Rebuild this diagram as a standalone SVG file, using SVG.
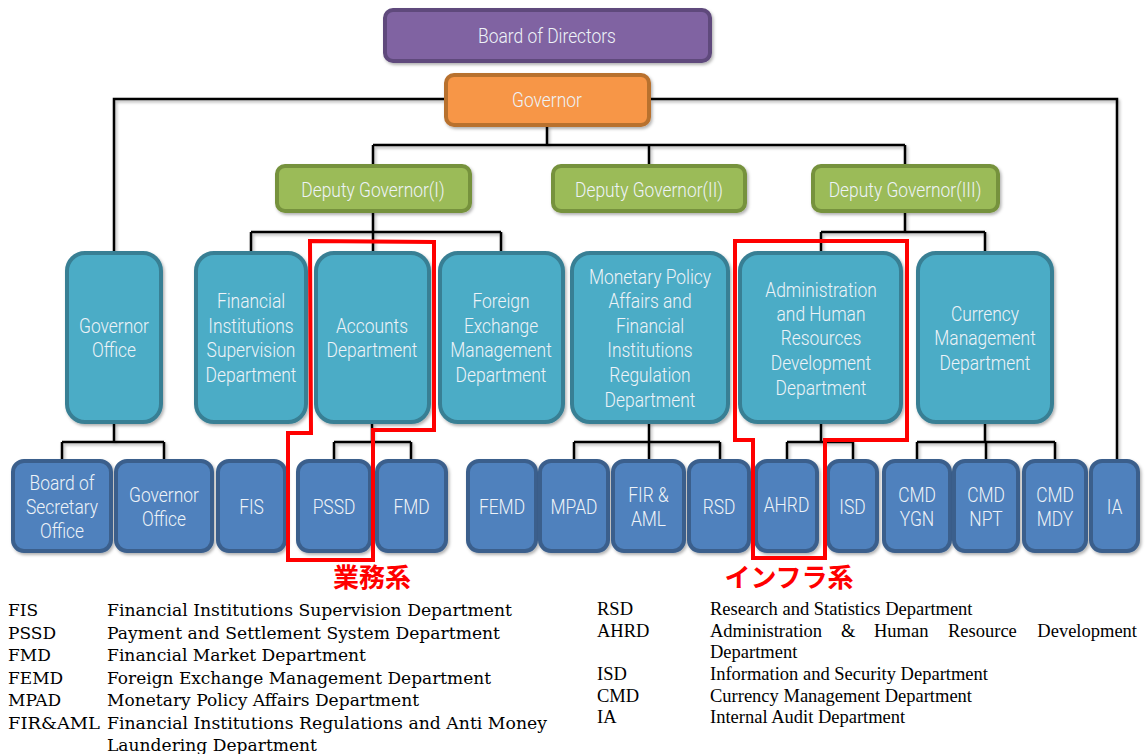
<svg xmlns="http://www.w3.org/2000/svg" width="1146" height="754" viewBox="0 0 1146 754">
  <defs>
    <filter id="shadow" x="-10%" y="-10%" width="130%" height="130%">
      <feDropShadow dx="1.5" dy="2" stdDeviation="1.5" flood-color="#000" flood-opacity="0.3"/>
    </filter>
    <style>
      .box { stroke-width: 4; filter: url(#shadow); }
      .board { fill: #8064a2; stroke: #5e4a7c; }
      .gov { fill: #f79646; stroke: #b8712f; }
      .dep { fill: #9bbb59; stroke: #76923c; }
      .dept { fill: #4bacc6; stroke: #387f94; }
      .unit { fill: #4f81bd; stroke: #3a5f8c; }
      .lbl { font-family: Roboto, "Open Sans", sans-serif; font-weight: 300; font-size: 20px; fill: #eef3f8; text-anchor: middle; }
      .wire { fill: none; stroke: #000; stroke-width: 2.5; filter: url(#shadow); }
      .mark { fill: none; stroke: #ff0000; stroke-width: 4; stroke-linejoin: miter; }
      .tag { font-family: "Noto Sans CJK JP", sans-serif; font-weight: 700; font-size: 26px; fill: #ff0000; text-anchor: middle; }
      .keyL { font-family: "DejaVu Serif", "Liberation Serif", serif; font-size: 17px; fill: #000; }
      .keyR { font-family: "Liberation Serif", serif; font-size: 18.5px; fill: #000; }
    </style>
  </defs>

  <rect width="1146" height="754" fill="#ffffff"/>

  <!-- connectors -->
  <g id="connectors">
    <path class="wire" d="M547 62 V74"/>
    <path class="wire" d="M444 99 H114 V252"/>
    <path class="wire" d="M651 99 H1117 V460"/>
    <path class="wire" d="M547 126 V145 M373 145 H905 M373 145 V165 M649 145 V165 M905 145 V165"/>
    <path class="wire" d="M373 212 V232 M251 232 H501 M251 232 V252 M373 232 V252 M501 232 V252"/>
    <path class="wire" d="M649 212 V252"/>
    <path class="wire" d="M905 212 V232 M821 232 H985 M821 232 V252 M985 232 V252"/>
    <path class="wire" d="M114 423 V442 M62 442 H164 M62 442 V460 M164 442 V460"/>
    <path class="wire" d="M251 423 V460"/>
    <path class="wire" d="M372 423 V442 M334 442 H411 M334 442 V460 M411 442 V460"/>
    <path class="wire" d="M501 423 V460"/>
    <path class="wire" d="M649 423 V442 M574 442 H720 M574 442 V460 M649 442 V460 M720 442 V460"/>
    <path class="wire" d="M821 423 V442 M787 442 H853 M787 442 V460 M853 442 V460"/>
    <path class="wire" d="M985 423 V442 M917 442 H1055 M917 442 V460 M986 442 V460 M1055 442 V460"/>
  </g>

  <!-- top level -->
  <g id="board-of-directors">
    <rect class="box board" x="385" y="10" width="325" height="51" rx="8"/>
    <text class="lbl" transform="translate(547 0) scale(0.87 1)"><tspan x="0" y="43">Board of Directors</tspan></text>
  </g>
  <g id="governor">
    <rect class="box gov" x="446" y="75" width="203" height="50" rx="8"/>
    <text class="lbl" transform="translate(547 0) scale(0.87 1)"><tspan x="0" y="107">Governor</tspan></text>
  </g>

  <!-- deputy governors -->
  <g id="deputy-governor-1">
    <rect class="box dep" x="277" y="166" width="193" height="45" rx="8"/>
    <text class="lbl" transform="translate(373 0) scale(0.87 1)"><tspan x="0" y="197">Deputy Governor(I)</tspan></text>
  </g>
  <g id="deputy-governor-2">
    <rect class="box dep" x="553" y="166" width="192" height="45" rx="8"/>
    <text class="lbl" transform="translate(649 0) scale(0.87 1)"><tspan x="0" y="197">Deputy Governor(II)</tspan></text>
  </g>
  <g id="deputy-governor-3">
    <rect class="box dep" x="813" y="166" width="185" height="45" rx="8"/>
    <text class="lbl" transform="translate(905 0) scale(0.87 1)"><tspan x="0" y="197">Deputy Governor(III)</tspan></text>
  </g>

  <!-- departments -->
  <g id="governor-office">
    <rect class="box dept" x="67" y="253" width="94" height="169" rx="18"/>
    <text class="lbl" transform="translate(114 0) scale(0.87 1)"><tspan x="0" y="333">Governor</tspan><tspan x="0" y="357">Office</tspan></text>
  </g>
  <g id="fi-supervision-dept">
    <rect class="box dept" x="196" y="253" width="110" height="169" rx="18"/>
    <text class="lbl" transform="translate(251 0) scale(0.87 1)"><tspan x="0" y="308">Financial</tspan><tspan x="0" y="333">Institutions</tspan><tspan x="0" y="357">Supervision</tspan><tspan x="0" y="382">Department</tspan></text>
  </g>
  <g id="accounts-dept">
    <rect class="box dept" x="316" y="253" width="113" height="169" rx="18"/>
    <text class="lbl" transform="translate(372 0) scale(0.87 1)"><tspan x="0" y="333">Accounts</tspan><tspan x="0" y="357">Department</tspan></text>
  </g>
  <g id="fx-management-dept">
    <rect class="box dept" x="440" y="253" width="123" height="169" rx="18"/>
    <text class="lbl" transform="translate(501 0) scale(0.87 1)"><tspan x="0" y="308">Foreign</tspan><tspan x="0" y="333">Exchange</tspan><tspan x="0" y="357">Management</tspan><tspan x="0" y="382">Department</tspan></text>
  </g>
  <g id="monetary-policy-dept">
    <rect class="box dept" x="572" y="253" width="156" height="169" rx="18"/>
    <text class="lbl" transform="translate(650 0) scale(0.87 1)"><tspan x="0" y="284">Monetary Policy</tspan><tspan x="0" y="308">Affairs and</tspan><tspan x="0" y="333">Financial</tspan><tspan x="0" y="357">Institutions</tspan><tspan x="0" y="382">Regulation</tspan><tspan x="0" y="407">Department</tspan></text>
  </g>
  <g id="admin-hr-dept">
    <rect class="box dept" x="740" y="253" width="161" height="169" rx="18"/>
    <text class="lbl" transform="translate(821 0) scale(0.87 1)"><tspan x="0" y="297">Administration</tspan><tspan x="0" y="321">and Human</tspan><tspan x="0" y="345">Resources</tspan><tspan x="0" y="370">Development</tspan><tspan x="0" y="395">Department</tspan></text>
  </g>
  <g id="currency-management-dept">
    <rect class="box dept" x="918" y="253" width="134" height="169" rx="18"/>
    <text class="lbl" transform="translate(985 0) scale(0.87 1)"><tspan x="0" y="321">Currency</tspan><tspan x="0" y="345">Management</tspan><tspan x="0" y="370">Department</tspan></text>
  </g>

  <!-- units -->
  <g id="board-secretary-office">
    <rect class="box unit" x="13" y="461" width="98" height="90" rx="11"/>
    <text class="lbl" transform="translate(62 0) scale(0.87 1)"><tspan x="0" y="490">Board of</tspan><tspan x="0" y="514">Secretary</tspan><tspan x="0" y="538">Office</tspan></text>
  </g>
  <g id="governor-office-unit">
    <rect class="box unit" x="116" y="461" width="96" height="90" rx="11"/>
    <text class="lbl" transform="translate(164 0) scale(0.87 1)"><tspan x="0" y="502">Governor</tspan><tspan x="0" y="526">Office</tspan></text>
  </g>
  <g id="fis">
    <rect class="box unit" x="218" y="461" width="67" height="90" rx="11"/>
    <text class="lbl" transform="translate(251.5 0) scale(0.87 1)"><tspan x="0" y="514">FIS</tspan></text>
  </g>
  <g id="pssd">
    <rect class="box unit" x="298" y="461" width="72" height="90" rx="11"/>
    <text class="lbl" transform="translate(334 0) scale(0.87 1)"><tspan x="0" y="514">PSSD</tspan></text>
  </g>
  <g id="fmd">
    <rect class="box unit" x="377" y="461" width="69" height="90" rx="11"/>
    <text class="lbl" transform="translate(411.5 0) scale(0.87 1)"><tspan x="0" y="514">FMD</tspan></text>
  </g>
  <g id="femd">
    <rect class="box unit" x="468" y="461" width="68" height="90" rx="11"/>
    <text class="lbl" transform="translate(502 0) scale(0.87 1)"><tspan x="0" y="514">FEMD</tspan></text>
  </g>
  <g id="mpad">
    <rect class="box unit" x="540" y="461" width="68" height="90" rx="11"/>
    <text class="lbl" transform="translate(574 0) scale(0.87 1)"><tspan x="0" y="514">MPAD</tspan></text>
  </g>
  <g id="fir-aml">
    <rect class="box unit" x="613" y="461" width="71" height="90" rx="11"/>
    <text class="lbl" transform="translate(648.5 0) scale(0.87 1)"><tspan x="0" y="502">FIR &amp;</tspan><tspan x="0" y="526">AML</tspan></text>
  </g>
  <g id="rsd">
    <rect class="box unit" x="689" y="461" width="60" height="90" rx="11"/>
    <text class="lbl" transform="translate(719 0) scale(0.87 1)"><tspan x="0" y="514">RSD</tspan></text>
  </g>
  <g id="ahrd">
    <rect class="box unit" x="756" y="461" width="61" height="90" rx="11"/>
    <text class="lbl" transform="translate(786.5 0) scale(0.87 1)"><tspan x="0" y="512">AHRD</tspan></text>
  </g>
  <g id="isd">
    <rect class="box unit" x="828" y="461" width="49" height="90" rx="11"/>
    <text class="lbl" transform="translate(852.5 0) scale(0.87 1)"><tspan x="0" y="514">ISD</tspan></text>
  </g>
  <g id="cmd-ygn">
    <rect class="box unit" x="884" y="461" width="66" height="90" rx="11"/>
    <text class="lbl" transform="translate(917 0) scale(0.87 1)"><tspan x="0" y="502">CMD</tspan><tspan x="0" y="526">YGN</tspan></text>
  </g>
  <g id="cmd-npt">
    <rect class="box unit" x="954" y="461" width="64" height="90" rx="11"/>
    <text class="lbl" transform="translate(986 0) scale(0.87 1)"><tspan x="0" y="502">CMD</tspan><tspan x="0" y="526">NPT</tspan></text>
  </g>
  <g id="cmd-mdy">
    <rect class="box unit" x="1024" y="461" width="62" height="90" rx="11"/>
    <text class="lbl" transform="translate(1055 0) scale(0.87 1)"><tspan x="0" y="502">CMD</tspan><tspan x="0" y="526">MDY</tspan></text>
  </g>
  <g id="ia">
    <rect class="box unit" x="1091" y="461" width="47" height="90" rx="11"/>
    <text class="lbl" transform="translate(1114.5 0) scale(0.87 1)"><tspan x="0" y="514">IA</tspan></text>
  </g>

  <!-- highlight outlines -->
  <g id="highlight-business">
    <path class="mark" d="M310 241 L434 242 L434 430 L373 430 L373 560 L288 560 L288 433 L311 433 Z"/>
    <text class="tag" x="372" y="587">業務系</text>
  </g>
  <g id="highlight-infra">
    <path class="mark" d="M735 241 L907 241 L907 440 L825 440 L825 558 L753 558 L753 440 L735 440 Z"/>
    <text class="tag" x="789" y="587">インフラ系</text>
  </g>

  <!-- abbreviation key, left column -->
  <g id="key-left">
    <text class="keyL" x="8" y="615.5">FIS</text>
    <text class="keyL" x="107" y="615.5" textLength="405" lengthAdjust="spacingAndGlyphs">Financial Institutions Supervision Department</text>
    <text class="keyL" x="8" y="638.5">PSSD</text>
    <text class="keyL" x="107" y="638.5" textLength="393" lengthAdjust="spacingAndGlyphs">Payment and Settlement System Department</text>
    <text class="keyL" x="8" y="660.5">FMD</text>
    <text class="keyL" x="107" y="660.5" textLength="259" lengthAdjust="spacingAndGlyphs">Financial Market Department</text>
    <text class="keyL" x="8" y="683.5">FEMD</text>
    <text class="keyL" x="107" y="683.5" textLength="384" lengthAdjust="spacingAndGlyphs">Foreign Exchange Management Department</text>
    <text class="keyL" x="8" y="705.5">MPAD</text>
    <text class="keyL" x="107" y="705.5" textLength="312" lengthAdjust="spacingAndGlyphs">Monetary Policy Affairs Department</text>
    <text class="keyL" x="8" y="728.5" textLength="92" lengthAdjust="spacingAndGlyphs">FIR&amp;AML</text>
    <text class="keyL" x="107" y="728.5" textLength="440" lengthAdjust="spacingAndGlyphs">Financial Institutions Regulations and Anti Money</text>
    <text class="keyL" x="107" y="751" textLength="210" lengthAdjust="spacingAndGlyphs">Laundering Department</text>
  </g>

  <!-- abbreviation key, right column -->
  <g id="key-right">
    <text class="keyR" x="597" y="614.5">RSD</text>
    <text class="keyR" x="710" y="614.5">Research and Statistics Department</text>
    <text class="keyR" x="597" y="636.5">AHRD</text>
    <text class="keyR" y="636.5"><tspan x="710">Administration</tspan><tspan x="841">&amp;</tspan><tspan x="874">Human</tspan><tspan x="948">Resource</tspan></text>
    <text class="keyR" x="1137" y="636.5" text-anchor="end">Development</text>
    <text class="keyR" x="710" y="658">Department</text>
    <text class="keyR" x="597" y="679.5">ISD</text>
    <text class="keyR" x="710" y="679.5">Information and Security Department</text>
    <text class="keyR" x="597" y="701.5">CMD</text>
    <text class="keyR" x="710" y="701.5">Currency Management Department</text>
    <text class="keyR" x="597" y="722.5">IA</text>
    <text class="keyR" x="710" y="722.5">Internal Audit Department</text>
  </g>
</svg>
